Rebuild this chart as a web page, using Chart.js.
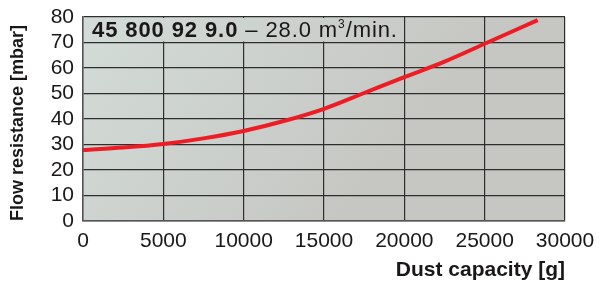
<!DOCTYPE html>
<html>
<head>
<meta charset="utf-8">
<script src="https://cdn.jsdelivr.net/npm/chart.js@4/dist/chart.umd.min.js"></script>
<style>
html,body{margin:0;padding:0;background:#fff;}
#wrap{width:611px;height:281px;}
</style>
</head>
<body>
<div id="wrap"><canvas id="c" width="611" height="281"></canvas></div>
<script>
const dustCapacity = [0, 2500, 5000, 7500, 10000, 12500, 15000, 17500, 20000, 22500, 25000, 28300];
const flowResistance = [27.8, 28.8, 30.2, 32.4, 35.3, 39.2, 44.0, 50.2, 56.4, 62.5, 69.5, 78.8];
const xTicks = [0, 5000, 10000, 15000, 20000, 25000, 30000];
const yTicks = [0, 10, 20, 30, 40, 50, 60, 70, 80];
const labelBold = '45 800 92 9.0';
const labelRest = ' – 28.0 m';
const labelSup = '3';
const labelEnd = '/min.';
const xTitle = 'Dust capacity [g]';
const yTitle = 'Flow resistance [mbar]';

const FONT = "'Liberation Sans', Arial, Helvetica, sans-serif";

function bgGrad(ctx, a) {
  const g = ctx.createLinearGradient(a.left, a.top, a.left + 250, a.bottom);
  g.addColorStop(0, '#d3dcd8');
  g.addColorStop(1, '#c6c7c3');
  return g;
}

const bgPlugin = {
  id: 'bg',
  beforeDraw(chart) {
    const {ctx, chartArea: a} = chart;
    ctx.save();
    ctx.fillStyle = bgGrad(ctx, a);
    ctx.fillRect(a.left, a.top, a.right - a.left, a.bottom - a.top);
    ctx.restore();
  },
  beforeDatasetsDraw(chart) {
    const {ctx, chartArea: a, scales} = chart;
    const xr = scales.x.getPixelForValue(20000);
    const yb = scales.y.getPixelForValue(70);
    ctx.save();
    ctx.fillStyle = bgGrad(ctx, a);
    ctx.fillRect(a.left + 1, a.top + 1, xr - a.left - 2, yb - a.top - 2);
    ctx.fillStyle = '#1a1718';
    ctx.textBaseline = 'alphabetic';
    ctx.letterSpacing = '0.9px';
    let x = a.left + 9;
    const y = a.top + 20;
    ctx.font = 'bold 22px ' + FONT;
    ctx.fillText(labelBold, x, y);
    x += ctx.measureText(labelBold).width;
    ctx.font = '22px ' + FONT;
    ctx.fillText(labelRest, x, y);
    x += ctx.measureText(labelRest).width;
    ctx.font = '12px ' + FONT;
    ctx.fillText(labelSup, x, y - 9);
    x += ctx.measureText(labelSup).width;
    ctx.font = '22px ' + FONT;
    ctx.fillText(labelEnd, x, y);
    ctx.restore();
  }
};

new Chart(document.getElementById('c'), {
  type: 'line',
  data: {
    datasets: [{
      data: dustCapacity.map((v, i) => ({x: v, y: flowResistance[i]})),
      borderColor: '#ee1c25',
      borderWidth: 4,
      pointRadius: 0,
      fill: false,
      cubicInterpolationMode: 'monotone',
      borderCapStyle: 'butt'
    }]
  },
  options: {
    responsive: false,
    animation: false,
    devicePixelRatio: 1,
    layout: {padding: {top: 17, right: 46, bottom: 0, left: 0}},
    plugins: {legend: {display: false}, tooltip: {enabled: false}},
    scales: {
      x: {
        type: 'linear',
        min: 0, max: 30000,
        afterBuildTicks(s) { s.ticks = xTicks.map(v => ({value: v})); },
        afterFit(s) { s.height = 60; s.paddingLeft = 0; s.paddingRight = 0; },
        ticks: {
          color: '#1a1718',
          font: {family: FONT, size: 21},
          padding: 8,
          maxRotation: 0,
          autoSkip: false,
          callback: v => String(v)
        },
        grid: {color: '#2e2e2e', lineWidth: 1.2, drawTicks: false},
        border: {color: '#555', width: 1.5},
        title: {
          display: true, text: xTitle, align: 'end', color: '#1a1718',
          font: {family: FONT, size: 21, weight: 'bold', lineHeight: 1.05},
          padding: 0
        }
      },
      y: {
        type: 'linear',
        min: 0, max: 80,
        afterBuildTicks(s) { s.ticks = yTicks.map(v => ({value: v})); },
        afterFit(s) { s.width = 83; s.paddingTop = 0; s.paddingBottom = 0; },
        ticks: {
          color: '#1a1718',
          font: {family: FONT, size: 21},
          padding: 9,
          autoSkip: false,
          callback: v => String(v)
        },
        grid: {color: '#2e2e2e', lineWidth: 1.2, drawTicks: false},
        border: {color: '#555', width: 1.5},
        title: {
          display: true, text: yTitle, align: 'start', color: '#1a1718',
          font: {family: FONT, size: 18, weight: 'bold', lineHeight: 1.2},
          padding: {top: 7, bottom: 0}
        }
      }
    }
  },
  plugins: [bgPlugin]
});
</script>
</body>
</html>
